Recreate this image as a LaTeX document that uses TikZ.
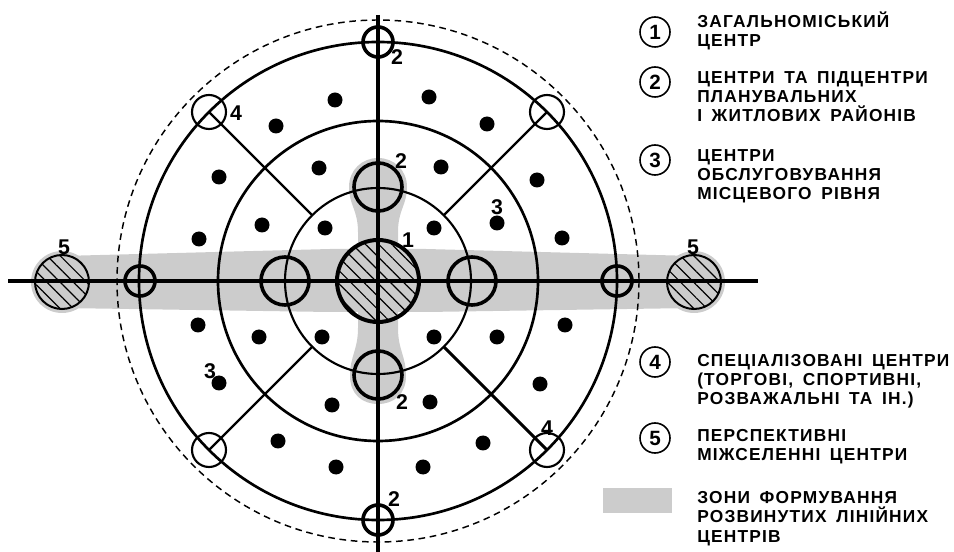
\documentclass[tikz,border=0pt]{standalone}
\usepackage{fontspec}
\setmainfont{Liberation Sans}
\newfontfamily\legendfont{Liberation Sans}[LetterSpace=7, WordSpace=1.6]
\usetikzlibrary{patterns.meta}

\begin{document}
\begin{tikzpicture}[x=0.75pt, y=-0.75pt,
  zone/.style={fill=black!20, draw=none},
  hatched/.style={draw, pattern={Lines[angle=-45, distance=#1, line width=0.9pt]}},
  centre/.style={draw, line width=2.7pt},
  spec/.style={draw, line width=1.6pt},
  dot/.style={fill=black},
  lbl/.style={font=\fontsize{16}{16}\bfseries\selectfont, inner sep=0pt},
  legnum/.style={draw, circle, line width=1.2pt, minimum size=22.5pt, inner sep=0pt,
                 font=\fontsize{15.5}{15.5}\bfseries\selectfont},
  legtext/.style={anchor=base west, align=left, inner sep=0pt,
                  font=\legendfont\fontsize{13}{14.6}\bfseries\selectfont},
]
  \useasboundingbox (0,0) rectangle (954,552);
  \coordinate (C) at (378,281);

  % zone of linear centres
  \fill[zone] (62,256) -- (330,249) -- (426,249) -- (694,256) -- (694,308)
              -- (426,312) -- (330,312) -- (62,308) -- cycle;
  \fill[zone] (62,282) circle[radius=31] (694,282) circle[radius=31];
  \fill[zone] (349,187) .. controls (349,170) and (362,158) .. (378,158)
              .. controls (394,158) and (407,170) .. (407,187)
              .. controls (407,205) and (398,210) .. (398,232) -- (398,328)
              .. controls (398,350) and (406,356) .. (406,376)
              .. controls (406,394) and (394,404) .. (378,404)
              .. controls (362,404) and (350,394) .. (350,376)
              .. controls (350,356) and (358,350) .. (358,328) -- (358,232)
              .. controls (358,210) and (349,205) .. (349,187) -- cycle;

  % rings of the plan
  \draw[line width=1.1pt, dash pattern=on 5pt off 3.5pt] (C) circle[radius=261];
  \draw[line width=2pt] (C) circle[radius=239];
  \draw[line width=2pt] (C) circle[radius=160];
  \draw[line width=1.6pt] (C) circle[radius=93];

  \draw[line width=1.6pt] (C) ++(135:93) -- ++(135:146) coordinate (nw);
  \draw[line width=2.3pt] (C) ++(45:93) -- ++(45:146) coordinate (ne);
  \draw[line width=1.6pt] (C) ++(-45:93) -- ++(-45:146) coordinate (se);
  \draw[line width=1.6pt] (C) ++(-135:93) -- ++(-135:146) coordinate (sw);

  \foreach \p in {(335,100),(276,126),(219,177),(319,168),(262,225),(199,239),(325,228),
                  (429,97),(487,124),(441,167),(537,180),(434,228),(497,223),(562,238),
                  (198,325),(259,337),(322,337),(219,383),(332,405),(278,441),(336,467),
                  (434,337),(497,337),(565,325),(540,384),(430,402),(483,443),(423,467)}
    \fill[dot] \p circle[radius=7.5];

  \draw[hatched=7pt, line width=1.5pt] (62,282) circle[radius=27];
  \draw[hatched=7pt, line width=1.5pt] (694,282) circle[radius=27];
  \draw[hatched=7pt, line width=3pt] (C) circle[radius=41];

  % axes
  \draw[line width=2.8pt] (8,281) -- (758,281);
  \draw[line width=2.8pt] (378,15) -- (378,552);

  \draw[centre] (378,187) circle[radius=24] (378,375) circle[radius=24]
                (285,281) circle[radius=24] (472,281) circle[radius=24];
  \draw[centre] (378,42) circle[radius=15] (378,520) circle[radius=15]
                (140,281) circle[radius=15] (617,281) circle[radius=15];
  \draw[spec] (nw) circle[radius=17] (ne) circle[radius=17]
              (se) circle[radius=17] (sw) circle[radius=17];

  \node[lbl] (t2a) at (397,57) {2};
  \node[lbl] (t2b) at (401,161) {2};
  \node[lbl] (t1)  at (408,240) {1};
  \node[lbl] (t2c) at (402,402) {2};
  \node[lbl] (t2d) at (394,499) {2};
  \node[lbl] (t4a) at (236,113) {4};
  \node[lbl] (t4b) at (547,428) {4};
  \node[lbl] (t3a) at (497,207) {3};
  \node[lbl] (t3b) at (210,371) {3};
  \node[lbl] (t5a) at (64,247) {5};
  \node[lbl] (t5b) at (693,247) {5};

  % legend
  \node[legnum] (k1) at (655,32) {1};
  \node[legnum] (k2) at (655,82) {2};
  \node[legnum] (k3) at (655,160) {3};
  \node[legnum] (k4) at (655,362) {4};
  \node[legnum] (k5) at (655,438) {5};
  \fill[zone] (603,488) rectangle (672,513) coordinate (k6);

  \node[legtext] (d1) at (697,46.5) {ЗАГАЛЬНОМІСЬКИЙ\\ЦЕНТР};
  \node[legtext] (d2) at (697,122) {ЦЕНТРИ ТА ПІДЦЕНТРИ\\ПЛАНУВАЛЬНИХ\\І ЖИТЛОВИХ РАЙОНІВ};
  \node[legtext] (d3) at (697,200) {ЦЕНТРИ\\ОБСЛУГОВУВАННЯ\\МІСЦЕВОГО РІВНЯ};
  \node[legtext] (d4) at (697,405) {СПЕЦІАЛІЗОВАНІ ЦЕНТРИ\\(ТОРГОВІ, СПОРТИВНІ,\\РОЗВАЖАЛЬНІ ТА ІН.)};
  \node[legtext] (d5) at (697,460.5) {ПЕРСПЕКТИВНІ\\МІЖСЕЛЕННІ ЦЕНТРИ};
  \node[legtext] (d6) at (697,542) {ЗОНИ ФОРМУВАННЯ\\РОЗВИНУТИХ ЛІНІЙНИХ\\ЦЕНТРІВ};
\end{tikzpicture}
\end{document}
